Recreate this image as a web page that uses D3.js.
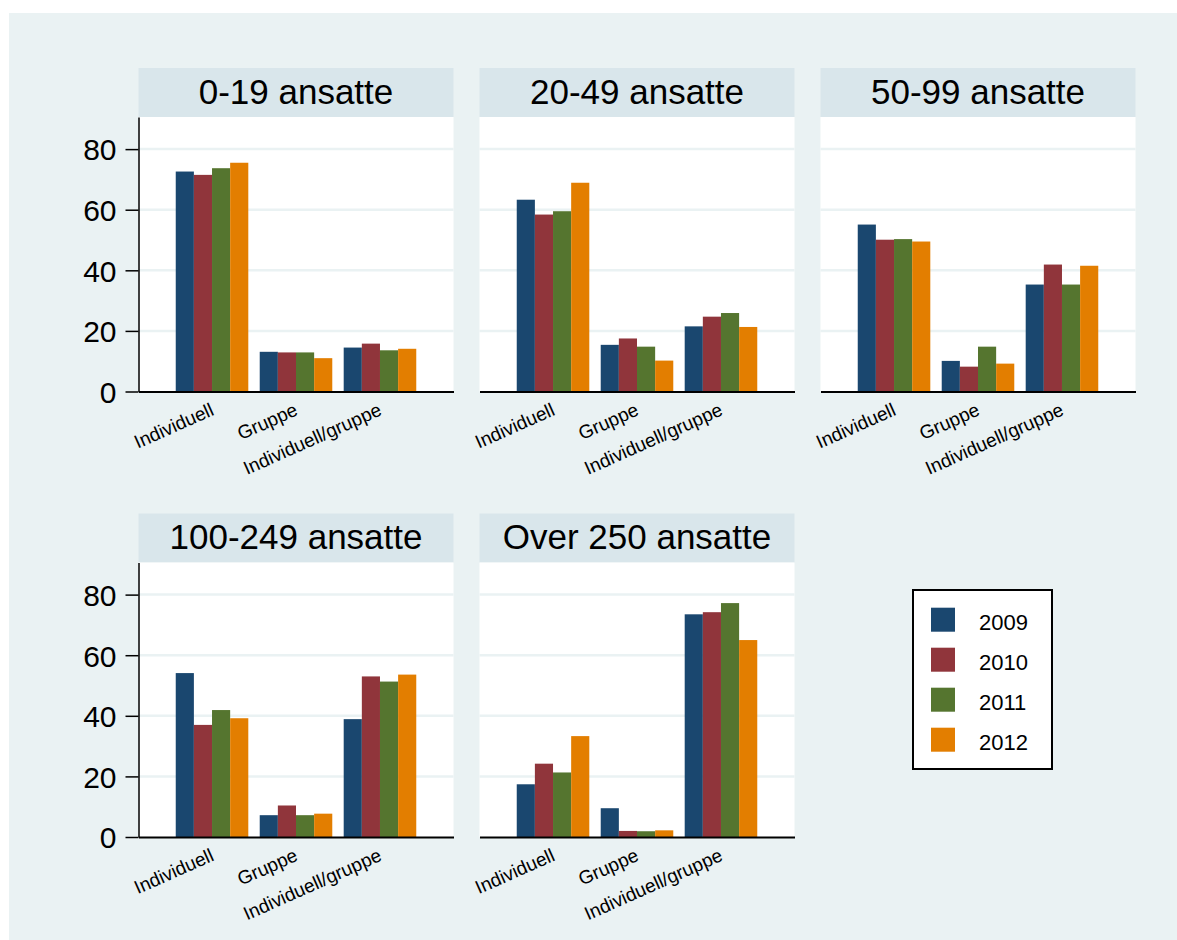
<!DOCTYPE html>
<html>
<head>
<meta charset="utf-8">
<script src="https://cdn.jsdelivr.net/npm/d3@7"></script>
<style>
  body { margin: 0; background: #fff; }
  text { font-family: "Liberation Sans", Arial, sans-serif; }
</style>
</head>
<body>
<script>
const width = 1177
const height = 940

const panelTitles = ['0-19 ansatte', '20-49 ansatte', '50-99 ansatte', '100-249 ansatte', 'Over 250 ansatte']
const categories = ['Individuell', 'Gruppe', 'Individuell/gruppe']
const years = ['2009', '2010', '2011', '2012']
const yTicks = [0, 20, 40, 60, 80]

// values per panel: [category][year]
const ans0_19 = [[72.6, 71.5, 73.7, 75.5], [13.1, 12.9, 12.9, 11.0], [14.5, 15.8, 13.6, 14.1]]
const ans20_49 = [[63.3, 58.4, 59.5, 68.9], [15.4, 17.5, 14.8, 10.2], [21.5, 24.7, 25.9, 21.3]]
const ans50_99 = [[55.1, 50.1, 50.3, 49.5], [10.1, 8.2, 14.8, 9.2], [35.3, 41.9, 35.3, 41.5]]
const ans100_249 = [[54.1, 37.0, 41.9, 39.2], [7.2, 10.4, 7.2, 7.7], [38.9, 53.0, 51.3, 53.6]]
const ansOver250 = [[17.4, 24.2, 21.3, 33.3], [9.5, 2.0, 1.9, 2.2], [73.5, 74.2, 77.2, 65.0]]
const panelValues = [ans0_19, ans20_49, ans50_99, ans100_249, ansOver250]

const colors = ['#1A476F', '#90353B', '#55752F', '#E37E00']

const colX = [138.5, 479.5, 820.5]
const rowY = [68, 513.5]
const plotW = 315
const headH = 49
const plotH = 274.5

const svg = d3.select('body').append('svg')
  .attr('width', width)
  .attr('height', height)

svg.append('rect')
  .attr('x', 9).attr('y', 13)
  .attr('width', width - 9).attr('height', height - 13)
  .attr('fill', '#EAF2F3')

const y = d3.scaleLinear().domain([0, 90.6]).range([plotH, 0])
const x0 = d3.scaleBand().domain(categories).range([0, plotW])
  .paddingInner(0.136).paddingOuter(0.4435)
const x1 = d3.scaleBand().domain(years).range([0, x0.bandwidth()])
const color = d3.scaleOrdinal().domain(years).range(colors)

panelTitles.forEach((title, p) => {
  const col = p % 3
  const row = Math.floor(p / 3)
  const g = svg.append('g')
    .attr('transform', `translate(${colX[col]},${rowY[row]})`)

  // header strip
  g.append('rect')
    .attr('width', plotW).attr('height', headH)
    .attr('fill', '#D9E6EB')
  g.append('text')
    .attr('x', plotW / 2).attr('y', 35.5)
    .attr('text-anchor', 'middle')
    .attr('font-size', '35px')
    .text(title)

  const plot = g.append('g').attr('transform', `translate(0,${headH})`)
  plot.append('rect')
    .attr('width', plotW).attr('height', plotH)
    .attr('fill', '#fff')

  plot.selectAll('.grid')
    .data(yTicks.filter(d => d > 0))
    .enter().append('line')
    .attr('x1', 0).attr('x2', plotW)
    .attr('y1', d => y(d)).attr('y2', d => y(d))
    .attr('stroke', '#EAF2F3')
    .attr('stroke-width', 2.5)

  const data = panelValues[p]
  plot.selectAll('.grp')
    .data(categories)
    .enter().append('g')
    .attr('transform', d => `translate(${x0(d)},0)`)
    .selectAll('rect')
    .data((d, i) => years.map((yr, j) => ({ yr, v: data[i][j] })))
    .enter().append('rect')
    .attr('x', d => x1(d.yr))
    .attr('y', d => y(d.v))
    .attr('width', x1.bandwidth())
    .attr('height', d => plotH - y(d.v))
    .attr('fill', d => color(d.yr))

  // x axis
  const xAxis = plot.append('g')
    .attr('transform', `translate(0,${plotH})`)
    .call(d3.axisBottom(x0).tickSize(0).tickSizeOuter(0))
  xAxis.select('.domain').attr('stroke', '#000').attr('stroke-width', 2)
  xAxis.selectAll('text')
    .attr('font-size', '19px')
    .attr('fill', '#000')
    .attr('text-anchor', 'end')
    .attr('dy', null)
    .attr('y', 0)
    .attr('transform', 'translate(3,23) rotate(-24)')

  if (col === 0) {
    const yAxis = plot.append('g')
      .call(d3.axisLeft(y).tickValues(yTicks).tickSize(13).tickPadding(9).tickSizeOuter(0))
    yAxis.select('.domain').attr('stroke', '#000').attr('stroke-width', 1.5)
    yAxis.selectAll('.tick line').attr('stroke', '#000').attr('stroke-width', 1.5)
    yAxis.selectAll('text')
      .attr('font-size', '30px')
      .attr('fill', '#000')
      .attr('dy', '0.36em')
  }
})

// legend
const legend = svg.append('g').attr('transform', 'translate(913,590)')
legend.append('rect')
  .attr('width', 139).attr('height', 179)
  .attr('fill', '#fff')
  .attr('stroke', '#000')
  .attr('stroke-width', 2)
const items = legend.selectAll('.item')
  .data(years)
  .enter().append('g')
  .attr('transform', (d, i) => `translate(18,${17.7 + i * 40})`)
items.append('rect')
  .attr('width', 24).attr('height', 24)
  .attr('fill', d => color(d))
items.append('text')
  .attr('x', 48).attr('y', 22.3)
  .attr('font-size', '22px')
  .text(d => d)
</script>
</body>
</html>
